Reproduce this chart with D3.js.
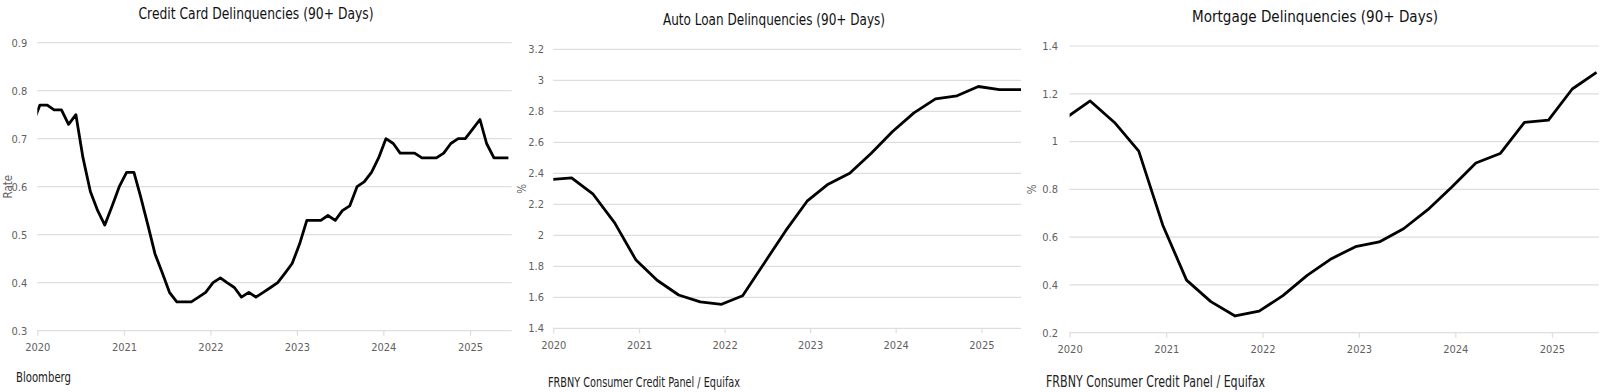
<!DOCTYPE html>
<html>
<head>
<meta charset="utf-8">
<script src="https://cdn.jsdelivr.net/npm/d3@7"></script>
<style>
  body { margin: 0; background: #fff; }
  svg { display: block; }
  text { font-family: "Liberation Sans Narrow", "DejaVu Sans Condensed", "Roboto Condensed", sans-serif; }
  .grid line { stroke: #dedede; stroke-width: 1.2; }
  .tick-label { fill: #5f5f5f; font-size: 11px; }
  .axis-title { fill: #5f5f5f; font-size: 11.5px; }
  .title { fill: #111; font-size: 16.5px; }
  .source { fill: #222; }
</style>
</head>
<body>
<script>
// credit card, monthly (Dec 2019 point sits just left of the axis and gets clipped)
var ccMonths = ["2019-12",
  "2020-01","2020-02","2020-03","2020-04","2020-05","2020-06","2020-07","2020-08","2020-09","2020-10","2020-11","2020-12",
  "2021-01","2021-02","2021-03","2021-04","2021-05","2021-06","2021-07","2021-08","2021-09","2021-10","2021-11","2021-12",
  "2022-01","2022-02","2022-03","2022-04","2022-05","2022-06","2022-07","2022-08","2022-09","2022-10","2022-11","2022-12",
  "2023-01","2023-02","2023-03","2023-04","2023-05","2023-06","2023-07","2023-08","2023-09","2023-10","2023-11","2023-12",
  "2024-01","2024-02","2024-03","2024-04","2024-05","2024-06","2024-07","2024-08","2024-09","2024-10","2024-11","2024-12",
  "2025-01","2025-02","2025-03","2025-04","2025-05","2025-06"];
var ccRate = [0.73,
  0.77,0.77,0.76,0.76,0.73,0.75,0.66,0.59,0.55,0.52,0.56,0.60,
  0.63,0.63,0.58,0.52,0.46,0.42,0.38,0.36,0.36,0.36,0.37,0.38,
  0.40,0.41,0.40,0.39,0.37,0.38,0.37,0.38,0.39,0.40,0.42,0.44,
  0.48,0.53,0.53,0.53,0.54,0.53,0.55,0.56,0.60,0.61,0.63,0.66,
  0.70,0.69,0.67,0.67,0.67,0.66,0.66,0.66,0.67,0.69,0.70,0.70,
  0.72,0.74,0.69,0.66,0.66,0.66];

// auto loans and mortgages, quarterly (end month of each quarter)
var quarters = ["2019-12",
  "2020-03","2020-06","2020-09","2020-12",
  "2021-03","2021-06","2021-09","2021-12",
  "2022-03","2022-06","2022-09","2022-12",
  "2023-03","2023-06","2023-09","2023-12",
  "2024-03","2024-06","2024-09","2024-12",
  "2025-03","2025-06"];
var autoPct = [2.36,
  2.37,2.265,2.08,1.84,
  1.71,1.615,1.57,1.555,
  1.61,1.82,2.03,2.22,
  2.33,2.40,2.53,2.67,
  2.79,2.88,2.90,2.96,
  2.94,2.94];
var mortgagePct = [1.10,
  1.17,1.08,0.96,0.65,
  0.42,0.33,0.27,0.29,
  0.355,0.44,0.51,0.56,
  0.58,0.635,0.715,0.81,
  0.91,0.95,1.08,1.09,
  1.22,1.29];

var years = [2020, 2021, 2022, 2023, 2024, 2025];
var ccTicks = [0.3, 0.4, 0.5, 0.6, 0.7, 0.8, 0.9];
var autoTicks = [1.4, 1.6, 1.8, 2, 2.2, 2.4, 2.6, 2.8, 3, 3.2];
var mortgageTicks = [0.2, 0.4, 0.6, 0.8, 1, 1.2, 1.4];

var titles = ["Credit Card Delinquencies (90+ Days)", "Auto Loan Delinquencies (90+ Days)", "Mortgage Delinquencies (90+ Days)"];
var sources = ["Bloomberg", "FRBNY Consumer Credit Panel / Equifax", "FRBNY Consumer Credit Panel / Equifax"];
var axisTitles = ["Rate", "%", "%"];

var parseMonth = d3.timeParse("%Y-%m");
function atDay(s, day){ var d = parseMonth(s); d.setDate(day); return d; }

// layout of the three panels (the narrow font is squeezed to the original widths)
var panels = [
  { dates: ccMonths.map(function(s){ return atDay(s, 12); }), values: ccRate, ticks: ccTicks,
    left: 37.3, right: 511.7, top: 42.7, bottom: 330.7, end: "2025-06-26",
    titleX: 256, titleY: 18.5, titleW: 235, srcX: 16, srcY: 382, srcSize: 14, srcW: 55,
    axTitleX: 7.5, yearY: 351, labelGap: 10 },
  { dates: quarters.map(function(s){ return atDay(s, 19); }), values: autoPct, ticks: autoTicks,
    left: 553.3, right: 1021, top: 49.3, bottom: 328.3, end: "2025-06-19",
    titleX: 774, titleY: 24.5, titleW: 222, srcX: 548, srcY: 387, srcSize: 14, srcW: 192,
    axTitleX: 522, yearY: 349, labelGap: 9.3 },
  { dates: quarters.map(function(s){ return atDay(s, 19); }), values: mortgagePct, ticks: mortgageTicks,
    left: 1069.6, right: 1598.9, top: 46, bottom: 332.7, end: "2025-06-28",
    titleX: 1315, titleY: 22, titleW: 246, srcX: 1046, srcY: 387, srcSize: 15.5, srcW: 219,
    axTitleX: 1032, yearY: 353, labelGap: 11.6 }
];

var svg = d3.select("body").append("svg")
  .attr("width", 1600)
  .attr("height", 392);

panels.forEach(function(p, i){
  var x = d3.scaleTime()
    .domain([new Date(2020, 0, 1), d3.timeParse("%Y-%m-%d")(p.end)])
    .range([p.left, p.right]);
  var y = d3.scaleLinear()
    .domain([p.ticks[0], p.ticks[p.ticks.length - 1]])
    .range([p.bottom, p.top]);

  var g = svg.append("g").attr("class", "panel");

  // horizontal gridlines
  g.append("g").attr("class", "grid")
    .selectAll("line")
    .data(p.ticks)
    .enter()
    .append("line")
    .attr("x1", p.left)
    .attr("x2", p.right)
    .attr("y1", function(d){ return y(d); })
    .attr("y2", function(d){ return y(d); });

  // y labels
  g.selectAll(".ylab")
    .data(p.ticks)
    .enter()
    .append("text")
    .attr("class", "tick-label")
    .attr("x", p.left - p.labelGap)
    .attr("y", function(d){ return y(d); })
    .attr("dy", "0.35em")
    .attr("text-anchor", "end")
    .text(function(d){ return d; });

  // x axis with year ticks
  var xAxis = d3.axisBottom(x)
    .tickValues(years.map(function(yr){ return new Date(yr, 0, 1); }))
    .tickFormat(d3.timeFormat("%Y"))
    .tickSize(5)
    .tickPadding(6);
  var ax = g.append("g")
    .attr("transform", "translate(0," + p.bottom + ")")
    .call(xAxis);
  ax.select(".domain").remove();
  ax.selectAll(".tick line").attr("stroke", "#dedede").attr("stroke-width", 1.2);
  ax.selectAll(".tick text")
    .attr("class", "tick-label")
    .attr("y", null)
    .attr("dy", null)
    .attr("transform", "translate(0," + (p.yearY - p.bottom) + ")");
  ax.attr("font-family", null).attr("font-size", null);

  // clip so the Dec 2019 point is cut at the axis
  var clipId = "clip" + i;
  g.append("clipPath").attr("id", clipId)
    .append("rect")
    .attr("x", p.left).attr("y", 0)
    .attr("width", p.right - p.left + 2).attr("height", 392);

  var line = d3.line()
    .x(function(d){ return x(d[0]); })
    .y(function(d){ return y(d[1]); });

  g.append("path")
    .datum(d3.zip(p.dates, p.values))
    .attr("clip-path", "url(#" + clipId + ")")
    .attr("fill", "none")
    .attr("stroke", "#000")
    .attr("stroke-width", 2.8)
    .attr("stroke-linejoin", "round")
    .attr("d", line);

  g.append("text")
    .attr("class", "title")
    .attr("x", p.titleX)
    .attr("y", p.titleY)
    .attr("text-anchor", "middle")
    .attr("textLength", p.titleW)
    .attr("lengthAdjust", "spacingAndGlyphs")
    .text(titles[i]);

  g.append("text")
    .attr("class", "axis-title")
    .attr("transform", "translate(" + p.axTitleX + "," + ((p.top + p.bottom) / 2) + ") rotate(-90)")
    .attr("dy", "0.35em")
    .attr("text-anchor", "middle")
    .text(axisTitles[i]);

  g.append("text")
    .attr("class", "source")
    .attr("x", p.srcX)
    .attr("y", p.srcY)
    .attr("textLength", p.srcW)
    .attr("lengthAdjust", "spacingAndGlyphs")
    .style("font-size", p.srcSize + "px")
    .text(sources[i]);
});
</script>
</body>
</html>
